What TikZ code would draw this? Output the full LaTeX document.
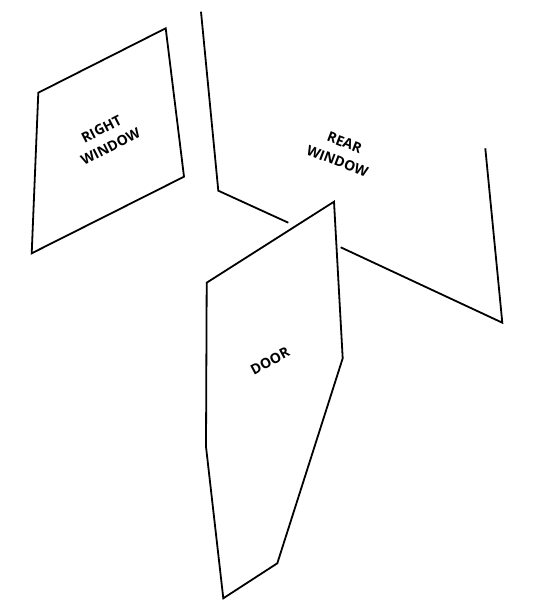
\documentclass[tikz,border=0pt]{standalone}
\usepackage{fontspec}
\setmainfont{Open Sans}
\usepackage{tikz}

\begin{document}
\begin{tikzpicture}[x=1pt,y=-1pt]
\tikzstyle{every node}+=[inner sep=0pt]
\tikzstyle{panel}=[black,line width=1.8pt,line join=miter]
\tikzstyle{lbl}=[align=center,font=\bfseries\fontsize{14}{20}\selectfont]
\useasboundingbox (0,0) rectangle (535,607);
% right window
\draw [panel] (165.7,28.3) -- (38.3,92.7) -- (31.7,253.3) -- (184,176.7) -- cycle;
\node [lbl,rotate=27] (rightwin) at (106,138) {RIGHT\\WINDOW};
% rear window
\draw [panel] (201,11.7) -- (218.3,190.7) -- (288.3,222.7);
\draw [panel] (340.7,247.3) -- (502.3,322.7) -- (485.3,148.3);
\node [lbl,rotate=-21] (rearwin) at (341,152) {REAR\\WINDOW};
% door
\draw [panel] (334,201.7) -- (206.7,282.7) -- (206,446.7) -- (223.3,598.3)
  -- (277.3,563.3) -- (342.7,358.3) -- cycle;
\node [lbl,rotate=28] (door) at (270,361) {DOOR};
\end{tikzpicture}
\end{document}
